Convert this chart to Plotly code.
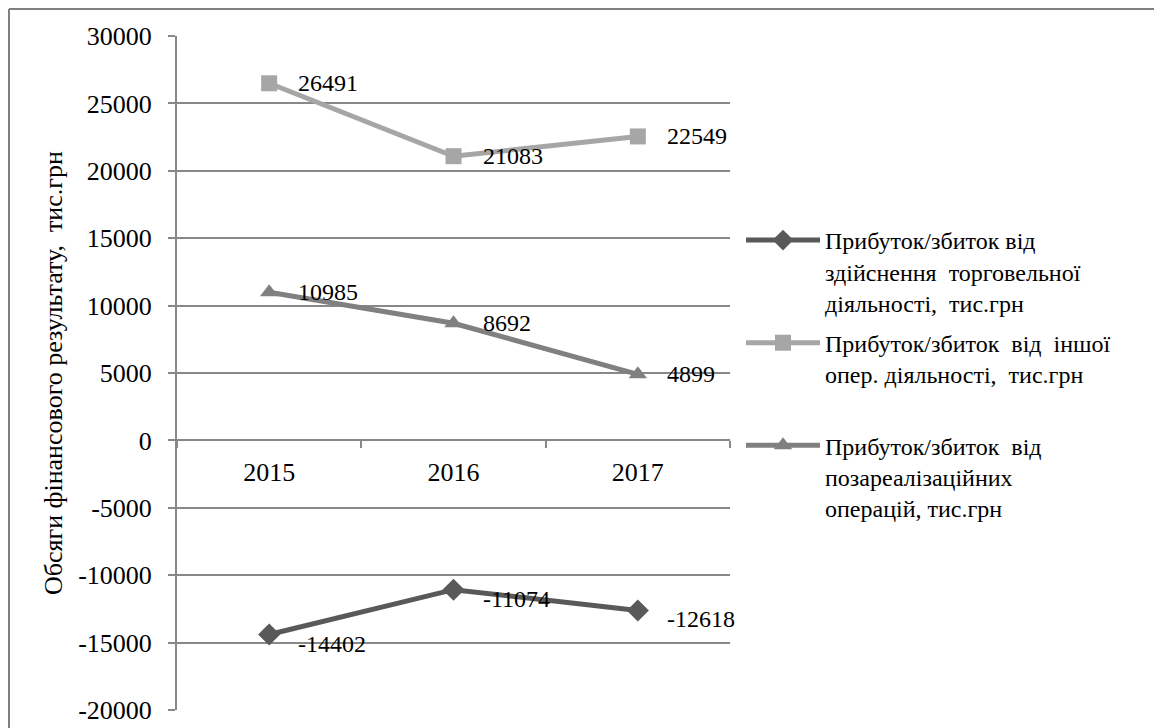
import plotly.graph_objects as go

years = ["2015", "2016", "2017"]
trade = [-14402, -11074, -12618]
other_oper = [26491, 21083, 22549]
non_oper = [10985, 8692, 4899]

names = [
    "Прибуток/збиток від<br>здійснення  торговельної<br>діяльності,  тис.грн",
    "Прибуток/збиток  від  іншої<br>опер. діяльності,  тис.грн<br> ",
    "Прибуток/збиток  від<br>позареалізаційних<br>операцій, тис.грн",
]
y_ticks = [30000, 25000, 20000, 15000, 10000, 5000, 0, -5000, -10000, -15000, -20000]
y_title = "Обсяги фінансового результату,  тис.грн"

FONT = "Times New Roman, Liberation Serif, DejaVu Serif, serif"
# the page body adds an 8px margin, so the figure itself is 8px smaller
W, H = 1154, 720
L, R, T, B = 169, 432, 28, 18

series = [
    (trade, names[0], "#595959", "diamond", 17),
    (other_oper, names[1], "#a6a6a6", "square", 16),
    (non_oper, names[2], "#808080", "triangle-up", 16),
]

fig = go.Figure()
for vals, nm, col, sym, ms in series:
    fig.add_trace(go.Scatter(
        x=years, y=vals, name=nm, mode="lines+markers",
        line=dict(color=col, width=5),
        marker=dict(symbol=sym, size=ms, color=col),
        legendgroup=nm,
    ))

pw = W - L - R
ph = H - T - B

annotations = []
for vals, nm, col, sym, ms in series:
    for i, yv in enumerate(vals):
        annotations.append(dict(
            x=i, y=yv, xref="x", yref="y", text=str(yv), showarrow=False,
            xanchor="left", yanchor="middle", xshift=27,
            yshift=-9 if yv < 0 else 0,
            font=dict(family=FONT, size=24, color="black"),
        ))

annotations.append(dict(
    x=(45 - L) / pw, y=0.5, xref="paper", yref="paper",
    text=y_title, textangle=-90, showarrow=False,
    xanchor="center", yanchor="middle",
    font=dict(family=FONT, size=26, color="black"),
))

shapes = [
    dict(type="line", xref="paper", yref="paper",
         x0=(1 - L) / pw, x1=(W + 20 - L) / pw, y0=1 + (T - 1) / ph, y1=1 + (T - 1) / ph,
         line=dict(color="#808080", width=2)),
    dict(type="line", xref="paper", yref="paper",
         x0=(1 - L) / pw, x1=(1 - L) / pw, y0=1 + (T - 1) / ph, y1=-(B + 20) / ph,
         line=dict(color="#808080", width=2)),
]

ymin, ymax = -20000, 30000
fig.update_layout(
    width=W, height=H,
    margin=dict(l=L, r=R, t=T, b=B, autoexpand=False),
    paper_bgcolor="white", plot_bgcolor="white",
    font=dict(family=FONT, size=26, color="black"),
    showlegend=True,
    legend=dict(
        x=(733 - L) / pw, y=1 - (210 - T) / ph, xanchor="left", yanchor="top",
        font=dict(family=FONT, size=24, color="black"),
        valign="top", tracegroupgap=6, itemwidth=74,
        bgcolor="rgba(0,0,0,0)",
    ),
    xaxis=dict(
        type="category", range=[-0.5, 2.5], anchor="free",
        position=(0 - ymin) / (ymax - ymin),
        showline=True, linecolor="#888888", linewidth=2,
        ticks="outside", tickson="boundaries", ticklen=7, tickcolor="#888888", tickwidth=2,
        showgrid=False, zeroline=False, automargin=False,
        tickfont=dict(family=FONT, size=26, color="black"),
        ticklabelstandoff=8,
    ),
    yaxis=dict(
        range=[ymin, ymax], tickvals=y_ticks, ticktext=[str(v) for v in y_ticks],
        showline=True, linecolor="#888888", linewidth=2,
        ticks="outside", ticklen=7, tickcolor="#888888", tickwidth=2,
        showgrid=True, gridcolor="#888888", gridwidth=2,
        zeroline=False, automargin=False,
        tickfont=dict(family=FONT, size=26, color="black"),
        ticklabelstandoff=11,
    ),
    annotations=annotations,
    shapes=shapes,
)

fig.write_html("out.html")
